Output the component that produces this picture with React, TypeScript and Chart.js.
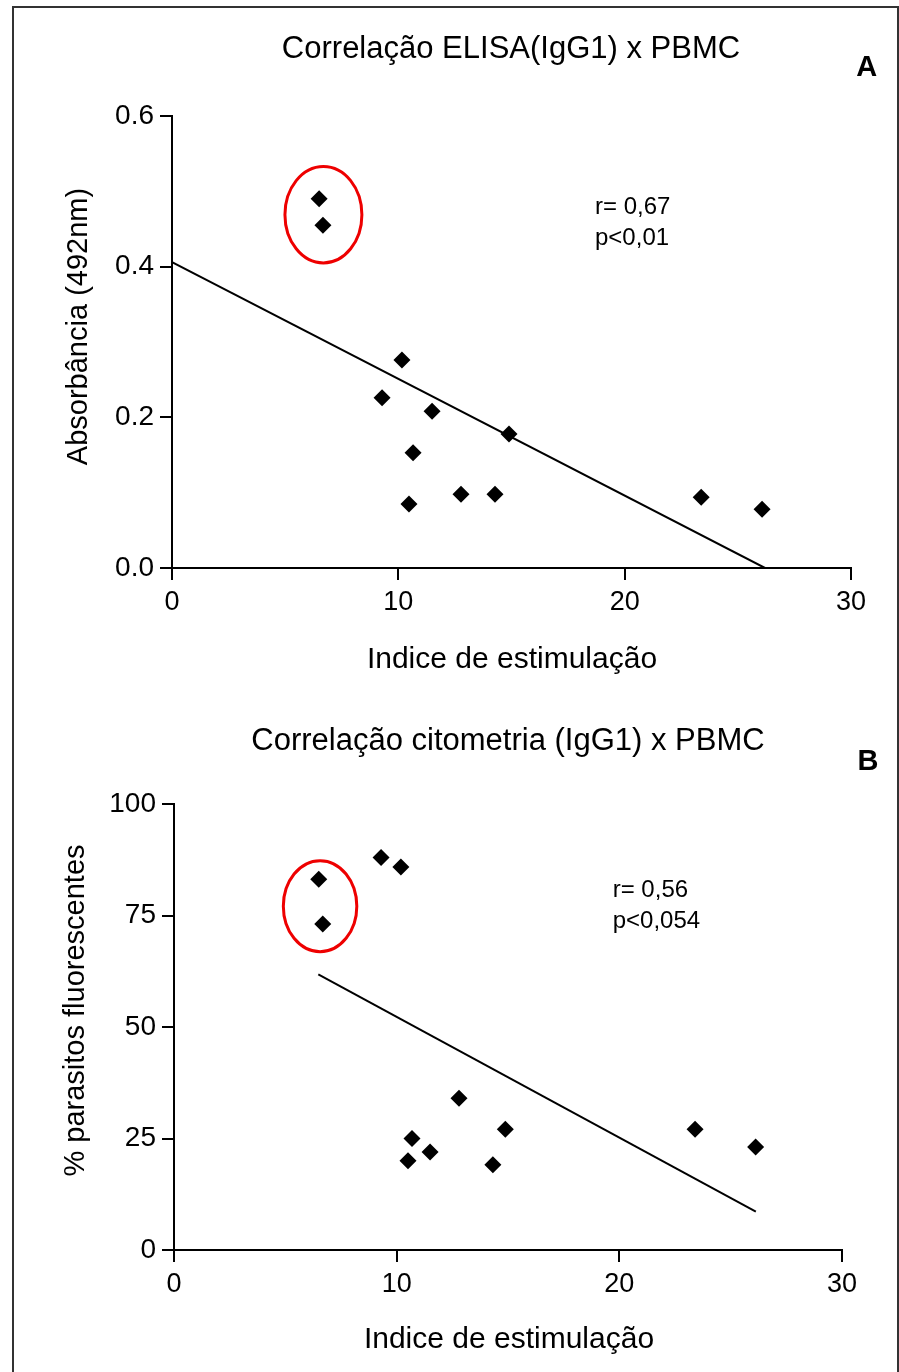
import React, { useEffect, useRef } from "react";
import { Chart, registerables } from "chart.js";

Chart.register(...registerables);

const FONT = "'Liberation Sans', Arial, Helvetica, sans-serif";

// ---- shared x axis ----
const xTicks = [0, 10, 20, 30];

// ---- Panel A: ELISA (IgG1) x PBMC ----
const stimA = [6.5, 6.67, 10.16, 9.28, 11.49, 10.65, 10.47, 12.77, 14.27, 14.89, 23.38, 26.07];
const absA = [0.49, 0.455, 0.276, 0.226, 0.208, 0.153, 0.085, 0.098, 0.098, 0.178, 0.094, 0.078];
const fitStimA = [0, 26.2];
const fitAbsA = [0.406, 0];
const yTicksA = [0, 0.2, 0.4, 0.6];
// outlier ring: centre x, centre y, radius x, radius y (data units)
const ringA = [6.69, 0.469, 1.7, 0.064];

// ---- Panel B: citometria (IgG1) x PBMC ----
const stimB = [6.5, 6.68, 9.3, 10.19, 12.8, 10.69, 10.51, 11.5, 14.88, 14.32, 23.4, 26.12];
const fluorB = [83.1, 73.1, 88.0, 85.9, 34.0, 25.0, 20.0, 22.0, 27.1, 19.1, 27.1, 23.1];
const fitStimB = [6.48, 26.13];
const fitFluorB = [61.8, 8.6];
const yTicksB = [0, 25, 50, 75, 100];
const ringB = [6.56, 77.1, 1.65, 10.2];

const W = 899;

const ringPlugin = {
  id: "outlierRing",
  afterDatasetsDraw(chart: any, _args: any, opts: any) {
    const ring = opts && opts.ring;
    if (!ring) return;
    const { ctx } = chart;
    const xs = chart.scales.x;
    const ys = chart.scales.y;
    const [cx, cy, rx, ry] = ring;
    const px = xs.getPixelForValue(cx);
    const py = ys.getPixelForValue(cy);
    const rpx = Math.abs(xs.getPixelForValue(cx + rx) - px);
    const rpy = Math.abs(ys.getPixelForValue(cy + ry) - py);
    ctx.save();
    ctx.beginPath();
    ctx.ellipse(px, py, rpx, rpy, 0, 0, Math.PI * 2);
    ctx.lineWidth = 3;
    ctx.strokeStyle = "#ee0000";
    ctx.stroke();
    ctx.restore();
  },
};

type PanelProps = {
  top: number;
  height: number;
  area: { left: number; top: number; right: number; bottom: number };
  stim: number[];
  vals: number[];
  fitX: number[];
  fitY: number[];
  yTicks: number[];
  yMax: number;
  decimals: number;
  ring: number[];
};

function Panel(p: PanelProps) {
  const ref = useRef<HTMLCanvasElement>(null);
  useEffect(() => {
    if (!ref.current) return;
    const chart = new Chart(ref.current, {
      type: "scatter",
      data: {
        datasets: [
          {
            type: "line",
            data: p.fitX.map((x, i) => ({ x, y: p.fitY[i] })),
            borderColor: "#000",
            borderWidth: 2,
            pointRadius: 0,
            fill: false,
            tension: 0,
            order: 2,
          } as any,
          {
            data: p.stim.map((x, i) => ({ x, y: p.vals[i] })),
            pointStyle: "rectRot",
            pointRadius: 8.5,
            backgroundColor: "#000",
            borderColor: "#000",
            borderWidth: 0,
            order: 1,
          },
        ],
      },
      options: {
        responsive: false,
        maintainAspectRatio: false,
        animation: false,
        events: [],
        layout: { padding: { left: 0, top: p.area.top, right: W - p.area.right, bottom: 0 } },
        plugins: {
          legend: { display: false },
          tooltip: { enabled: false },
          title: { display: false },
          outlierRing: { ring: p.ring },
        } as any,
        scales: {
          x: {
            type: "linear",
            min: 0,
            max: 30,
            afterBuildTicks: (s: any) => {
              s.ticks = xTicks.map((v) => ({ value: v }));
            },
            afterFit: (s: any) => {
              s.height = p.height - p.area.bottom;
            },
            grid: {
              display: true,
              drawOnChartArea: false,
              drawTicks: true,
              tickLength: 12,
              lineWidth: 2,
              color: "#000",
            },
            border: { display: true, color: "#000", width: 2 },
            ticks: {
              font: { family: FONT, size: 27 },
              color: "#000",
              padding: 6,
              maxRotation: 0,
              autoSkip: false,
              callback: (v: any) => String(v),
            },
          },
          y: {
            type: "linear",
            min: 0,
            max: p.yMax,
            afterBuildTicks: (s: any) => {
              s.ticks = p.yTicks.map((v) => ({ value: v }));
            },
            afterFit: (s: any) => {
              s.width = p.area.left;
            },
            grid: {
              display: true,
              drawOnChartArea: false,
              drawTicks: true,
              tickLength: 12,
              lineWidth: 2,
              color: "#000",
            },
            border: { display: true, color: "#000", width: 2 },
            ticks: {
              font: { family: FONT, size: 28 },
              color: "#000",
              padding: 6,
              autoSkip: false,
              callback: (v: any) => Number(v).toFixed(p.decimals),
            },
          },
        },
      },
      plugins: [ringPlugin],
    });
    return () => chart.destroy();
  }, []);
  return (
    <canvas
      ref={ref}
      width={W}
      height={p.height}
      style={{ position: "absolute", left: 0, top: p.top, width: W, height: p.height }}
    />
  );
}

const txt = (extra: React.CSSProperties): React.CSSProperties => ({
  position: "absolute",
  fontFamily: FONT,
  color: "#000",
  whiteSpace: "nowrap",
  ...extra,
});

function Centered({ cx, top, size, children, bold }: any) {
  return (
    <div
      style={txt({
        left: cx - 300,
        width: 600,
        top,
        fontSize: size,
        lineHeight: `${size}px`,
        textAlign: "center",
        fontWeight: bold ? "bold" : "normal",
      })}
    >
      {children}
    </div>
  );
}

function Vertical({ cx, cy, size, children }: any) {
  return (
    <div
      style={txt({
        left: cx - 250,
        top: cy - size / 2,
        width: 500,
        height: size,
        fontSize: size,
        lineHeight: `${size}px`,
        textAlign: "center",
        transform: "rotate(-90deg)",
        transformOrigin: "center center",
      })}
    >
      {children}
    </div>
  );
}

function Stats({ left, top, lines }: any) {
  return (
    <div style={txt({ left, top, fontSize: 24, lineHeight: "31px" })}>
      {lines.map((l: string) => (
        <div key={l}>{l}</div>
      ))}
    </div>
  );
}

export default function App() {
  return (
    <div
      style={{
        position: "absolute",
        left: 0,
        top: 0,
        width: W,
        height: 1372,
        overflow: "hidden",
        background: "#fff",
      }}
    >
      <div
        style={{
          position: "absolute",
          left: 12,
          top: 6,
          width: 883,
          height: 1400,
          borderLeft: "2px solid #333",
          borderTop: "2px solid #333",
          borderRight: "2px solid #333",
        }}
      />
      <Panel
        top={0}
        height={690}
        area={{ left: 172, top: 116, right: 851, bottom: 568 }}
        stim={stimA}
        vals={absA}
        fitX={fitStimA}
        fitY={fitAbsA}
        yTicks={yTicksA}
        yMax={0.6}
        decimals={1}
        ring={ringA}
      />
      <Panel
        top={690}
        height={682}
        area={{ left: 174, top: 114, right: 842, bottom: 560 }}
        stim={stimB}
        vals={fluorB}
        fitX={fitStimB}
        fitY={fitFluorB}
        yTicks={yTicksB}
        yMax={100}
        decimals={0}
        ring={ringB}
      />

      <Centered cx={511} top={32} size={31}>Correlação ELISA(IgG1) x PBMC</Centered>
      <Centered cx={866.7} top={52} size={29} bold>A</Centered>
      <Stats left={595} top={189.5} lines={["r= 0,67", "p<0,01"]} />
      <Vertical cx={76.5} cy={326.5} size={29}>Absorbância (492nm)</Vertical>
      <Centered cx={512} top={643} size={30}>Indice de estimulação</Centered>

      <Centered cx={508} top={724} size={31}>Correlação citometria (IgG1) x PBMC</Centered>
      <Centered cx={868} top={745.5} size={29} bold>B</Centered>
      <Stats left={612.7} top={873} lines={["r= 0,56", "p<0,054"]} />
      <Vertical cx={74} cy={1010.5} size={29}>% parasitos fluorescentes</Vertical>
      <Centered cx={509} top={1322.6} size={30}>Indice de estimulação</Centered>
    </div>
  );
}
